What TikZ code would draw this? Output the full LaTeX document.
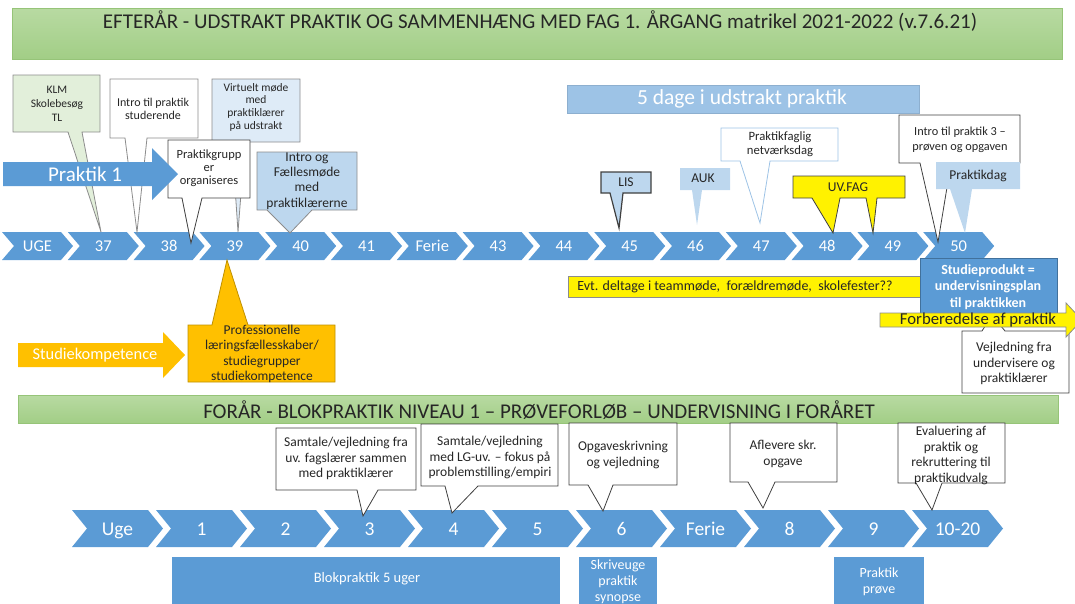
\documentclass[tikz,border=0pt]{standalone}
\usepackage{fontspec}
\setmainfont{Carlito}
\usetikzlibrary{calc}
\definecolor{chevblue}{RGB}{91,155,213}
\definecolor{paleblue}{RGB}{189,215,238}
\definecolor{lightblue}{RGB}{222,235,247}
\definecolor{midblue}{RGB}{157,195,230}
\definecolor{darkblue}{RGB}{65,113,156}
\definecolor{palegreen}{RGB}{226,239,218}
\definecolor{headgreenA}{RGB}{184,218,162}
\definecolor{headgreenB}{RGB}{162,206,134}
\definecolor{headline}{RGB}{150,196,120}
\definecolor{accentorange}{RGB}{255,192,0}
\definecolor{darkorange}{RGB}{191,144,0}
\definecolor{textgray}{RGB}{38,38,38}
\definecolor{linegray}{RGB}{64,64,64}
\definecolor{softgray}{RGB}{140,140,140}

% callout with pointer below / above: style, x1, y1, x2, y2, base left, base right, tip
\newcommand{\calldown}[8]{\filldraw[#1] (#2,#3) -- (#4,#3) -- (#4,#5) -- (#7,#5) -- #8 -- (#6,#5) -- (#2,#5) -- cycle;}
\newcommand{\callup}[8]{\filldraw[#1] (#2,#3) -- (#6,#3) -- #8 -- (#7,#3) -- (#4,#3) -- (#4,#5) -- (#2,#5) -- cycle;}

\begin{document}
\begin{tikzpicture}[x=1pt, y=-1pt,
    box/.style={line width=0.8pt, line join=miter},
    small/.style={font=\fontsize{12}{13}\selectfont, text=textgray, align=center, inner sep=0pt},
    mid/.style={font=\fontsize{13.5}{15.5}\selectfont, text=textgray, align=center, inner sep=0pt},
    tag/.style={font=\fontsize{13.5}{15}\selectfont, text=textgray, inner sep=0pt},
    white/.style={text=white, align=center, inner sep=0pt},
    weektop/.style={font=\fontsize{16.5}{18}\selectfont, text=white, inner sep=0pt, anchor=base},
    weekbot/.style={font=\fontsize{19.5}{21}\selectfont, text=white, inner sep=0pt, anchor=base},
    title/.style={font=\fontsize{21}{24}\selectfont, text=textgray, inner sep=0pt}]
    \useasboundingbox (0,0) rectangle (1075,603);
    \clip (0,0) rectangle (1075,603);

    % Headers
    \shadedraw[top color=headgreenA, bottom color=headgreenB, draw=headline] (12,8) rectangle (1062,59);
    \node[title] (autumn) at (540,21) {EFTERÅR - UDSTRAKT PRAKTIK OG SAMMENHÆNG MED FAG 1. ÅRGANG matrikel 2021-2022 (v.7.6.21)};

    % Autumn weeks
    \foreach \lab [count=\i from 0] in {UGE,37,38,39,40,41,Ferie,43,44,45,46,47,48,49,50}{
        \pgfmathsetmacro{\xo}{2+65.8*\i}
        \fill[chevblue] (\xo,232) -- ++(59,0) -- ++(12,14) -- ++(-12,14) -- ++(-59,0) -- ++(12,-14) -- cycle;
        \node[weektop] (t\i) at (\xo+35.5,251.5) {\lab};
    }

    % 5 dage
    \filldraw[midblue, draw=midblue!90!black, box] (567,85) rectangle (919,113);
    \node[white, font=\fontsize{21.5}{24}\selectfont] (dage) at (742,99) {5 dage i udstrakt praktik};

    % Callouts left
    \calldown{box, fill=palegreen, draw=softgray}{13}{75}{100}{132}{68}{82}{(101,232)}
    \node[small, font=\fontsize{11.5}{14}\selectfont] (klm) at (57,104) {KLM\\Skolebesøg\\TL};
    \calldown{box, fill=white, draw=softgray}{110}{79}{198}{138}{125}{147}{(137,232)}
    \node[small] (introprak) at (153,108.5) {Intro til praktik\\studerende};
    \calldown{box, fill=lightblue, draw=softgray}{212}{79}{300}{142}{232}{245}{(238,232)}
    \node[small, font=\fontsize{11.5}{12.7}\selectfont] (virtuelt) at (256,107) {Virtuelt møde\\med\\praktiklærer\\på udstrakt};
    \calldown{box, fill=white, draw=linegray}{168}{140}{250}{198}{182}{202}{(191,243)}
    \node[small, font=\fontsize{12.5}{13}\selectfont] (pgrupper) at (209,168) {Praktikgrupp\\er\\organiseres};
    \calldown{box, fill=paleblue, draw=softgray}{257}{152}{357}{210}{267}{312}{(290,233)}
    \node[mid] (faelles) at (307,181) {Intro og\\Fællesmøde\\med\\praktiklærerne};

    % Praktik 1
    \fill[chevblue] (3,162) -- (152,162) -- (152,148) -- (178,174) -- (152,200) -- (152,186) -- (3,186) -- cycle;
    \node[white, font=\fontsize{21}{24}\selectfont] (praktik1) at (85,174) {Praktik 1};

    % Callouts right
    \calldown{box, fill=paleblue, draw=linegray, line width=1.2pt}{601}{172}{651}{193}{610}{623}{(619,228)}
    \node[tag] (lis) at (626,182.5) {LIS};
    \calldown{fill=paleblue, draw=none}{680}{168}{730}{190}{692}{702}{(697,225)}
    \node[tag] (auk) at (703,178.5) {AUK};
    \calldown{box, fill=white, draw=midblue}{721}{128}{838}{161}{740}{770}{(760,223)}
    \node[small, font=\fontsize{12.7}{13.5}\selectfont] (netv) at (780,144) {Praktikfaglig\\netværksdag};
    \filldraw[box, fill=yellow, draw=linegray] (793,176) -- (905,176) -- (905,198) -- (877,198) -- (873,233) -- (866,198)
        -- (840,198) -- (833,233) -- (812,198) -- (793,198) -- cycle;
    \node[tag] (uvfag) at (848,187) {UV.FAG};
    \calldown{box, fill=white, draw=linegray}{899}{115}{1020}{163}{920}{951}{(938,242)}
    \node[small, font=\fontsize{12.3}{15}\selectfont] (intro3) at (960,140) {Intro til praktik 3 –\\prøven og opgaven};
    \calldown{fill=paleblue, draw=none}{936}{162}{1020}{189}{950}{972}{(965,233)}
    \node[tag] (pdag) at (978,175.5) {Praktikdag};

    % Studiekompetence
    \callup{box, fill=accentorange, draw=darkorange}{188}{325}{335}{382}{212}{248}{(227,260)}
    \node[mid] (profl) at (262,354) {Professionelle\\læringsfællesskaber/\\studiegrupper\\studiekompetence};
    \fill[accentorange] (18,343) -- (163,343) -- (163,332) -- (185,355) -- (163,378) -- (163,367) -- (18,367) -- cycle;
    \node[white, font=\fontsize{16.4}{19}\selectfont] (studkomp) at (95,355.5) {Studiekompetence};

    % Studieprodukt and forberedelse
    \filldraw[box, fill=yellow, draw=softgray] (568,276) rectangle (935,297);
    \node[font=\fontsize{14}{16}\selectfont, text=textgray, inner sep=0pt] (evt) at (735,287) {Evt. deltage i teammøde,\ \ forældremøde,\ \ skolefester??};
    \filldraw[box, fill=chevblue, draw=darkblue] (920,258) rectangle (1057,313);
    \node[white, font=\bfseries\fontsize{14}{16.5}\selectfont] (studprod) at (988,287) {Studieprodukt =\\undervisningsplan\\til praktikken};
    \callup{box, fill=white, draw=linegray}{962}{331}{1069}{393}{982}{1005}{(992,315)}
    \node[mid] (vejl) at (1014,363.5) {Vejledning fra\\undervisere og\\praktiklærer};
    \filldraw[box, fill=yellow, draw=softgray] (880,313) -- (1066,313) -- (1066,303) -- (1082,320) -- (1066,337) -- (1066,327) -- (880,327) -- cycle;
    \node[font=\fontsize{16.7}{19}\selectfont, text=textgray, inner sep=0pt] (forb) at (978,320) {Forberedelse af praktik};

    % Spring
    \shadedraw[top color=headgreenA, bottom color=headgreenB, draw=headline] (18,395) rectangle (1058,423);
    \node[title] (spring) at (539,410) {FORÅR - BLOKPRAKTIK NIVEAU 1 – PRØVEFORLØB – UNDERVISNING I FORÅRET};

    \foreach \lab [count=\i from 0] in {Uge,1,2,3,4,5,6,Ferie,8,9,10-20}{
        \pgfmathsetmacro{\xo}{72+84*\i}
        \fill[chevblue] (\xo,510) -- ++(76,0) -- ++(15,18.5) -- ++(-15,18.5) -- ++(-76,0) -- ++(15,-18.5) -- cycle;
        \node[weekbot] (b\i) at (\xo+45.5,535) {\lab};
    }

    \calldown{box, fill=white, draw=linegray}{276}{428}{416}{490}{357}{378}{(363,516)}
    \node[mid] (samtale1) at (346,458.5) {Samtale/vejledning fra\\uv. fagslærer sammen\\med praktiklærer};
    \calldown{box, fill=white, draw=linegray}{421}{424}{558}{486}{445}{478}{(452,513)}
    \node[mid] (samtale2) at (490,457.5) {Samtale/vejledning\\med LG-uv. – fokus på\\problemstilling/empiri};
    \calldown{box, fill=white, draw=linegray}{569}{423}{677}{485}{588}{613}{(603,511)}
    \node[mid] (opg) at (623,455) {Opgaveskrivning\\og vejledning};
    \calldown{box, fill=white, draw=linegray}{730}{423}{837}{482}{748}{775}{(763,508)}
    \node[mid] (aflev) at (783,454) {Aflevere skr.\\opgave};
    \calldown{box, fill=white, draw=linegray}{898}{423}{1005}{483}{916}{942}{(932,510)}
    \node[mid] (eval) at (951,455.5) {Evaluering af\\praktik og\\rekruttering til\\praktikudvalg};

    % Blocks
    \fill[chevblue] (172,557) rectangle (560,605);
    \node[white, font=\fontsize{14.5}{16}\selectfont] (blok) at (367,579) {Blokpraktik 5 uger};
    \fill[chevblue] (579,557) rectangle (657,605);
    \node[white, font=\fontsize{14}{16}\selectfont] (skrive) at (618,581.5) {Skriveuge\\praktik\\synopse};
    \fill[chevblue] (834,557) rectangle (924,605);
    \node[white, font=\fontsize{14}{16}\selectfont] (prove) at (879,582) {Praktik\\prøve};
\end{tikzpicture}
\end{document}
